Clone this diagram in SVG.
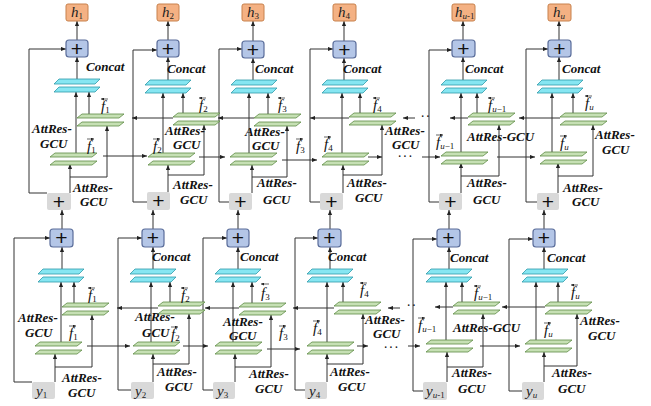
<svg xmlns="http://www.w3.org/2000/svg" width="651" height="406" viewBox="0 0 651 406">
<style>
.bg{fill:#fff}
.ln{fill:none;stroke:#333;stroke-width:1}
.ar{marker-end:url(#a)}
.ac{fill:none;stroke:#222;stroke-width:0.7;marker-end:url(#v)}
.gr{fill:#C6E0B4;stroke:#5E8C45;stroke-width:0.8}
.cy{fill:#86E6F2;stroke:#2E9AAA;stroke-width:0.8}
.bp{fill:#B4C6E7;stroke:#5A6D9A;stroke-width:1.2}
.gp{fill:#D9D9D9;stroke:none}
.ob{fill:#F4B183;stroke:#C8814C;stroke-width:1}
.pl{font:21px "Liberation Sans",sans-serif;fill:#111;text-anchor:middle}
.t{font:italic bold 13px "Liberation Serif",serif;fill:#111}
.f{font:italic 15px "Liberation Serif",serif;fill:#111}
.hv{font:italic 15px "Liberation Serif",serif;fill:#222}
.s{font-size:9px;font-style:normal}
.si{font-size:9px;font-style:italic}
.d{font:bold 10px "Liberation Serif",serif;fill:#111;letter-spacing:2px}
</style>
<defs>
<marker id="a" viewBox="0 0 6 6" refX="6" refY="3" markerWidth="5" markerHeight="5" orient="auto" markerUnits="userSpaceOnUse"><path d="M0,0.5L6,3L0,5.5z" fill="#222"/></marker>
<marker id="v" viewBox="0 0 6 6" refX="6" refY="3" markerWidth="3" markerHeight="3" orient="auto" markerUnits="userSpaceOnUse"><path d="M0,0L6,3L0,6z" fill="#222"/></marker>
<g id="gS"><polygon points="5,0 47,0 42,4 0,4"/><polygon points="5,8 47,8 42,12 0,12"/></g>
<g id="cS"><polygon points="5,0 46,0 41,5 0,5"/><polygon points="5,8 46,8 41,13 0,13"/></g>
</defs>
<rect class="bg" x="0" y="0" width="651" height="406"/>

<g id="connectors" class="ln">
<!-- top col1 -->
<path class="ar" d="M77,40V21"/><path class="ar" d="M77,79V57"/><path class="ar" d="M76,153V92"/><path class="ar" d="M89,114V92"/>
<path class="ar" d="M70,193V164"/><path class="ar" d="M70,177H107V126"/><path class="ar" d="M47,193H29V49H66"/><path class="ar" d="M103,156H147"/>
<!-- top col2 -->
<path class="ar" d="M168,40V21"/><path class="ar" d="M168,80V57"/><path class="ar" d="M163,153V93"/><path class="ar" d="M183,113V93"/>
<path class="ar" d="M168,192V165"/><path class="ar" d="M168,175H204V125"/><path class="ar" d="M147,202H133V50H157"/><path class="ar" d="M173,118H132"/><path class="ar" d="M199,157H225"/>
<!-- top col3 -->
<path class="ar" d="M253,41V21"/><path class="ar" d="M253,80V58"/><path class="ar" d="M249,153V93"/><path class="ar" d="M268,114V93"/>
<path class="ar" d="M252,193V165"/><path class="ar" d="M252,177H287V126"/><path class="ar" d="M229,202H219V49H242"/><path class="ar" d="M254,118H218"/><path class="ar" d="M282,160H317"/>
<!-- top col4 -->
<path class="ar" d="M344,41V21"/><path class="ar" d="M344,80V58"/><path class="ar" d="M342,153V93"/><path class="ar" d="M360,113V93"/>
<path class="ar" d="M343,193V165"/><path class="ar" d="M343,175H382V125"/><path class="ar" d="M320,202H310V49H333"/><path class="ar" d="M349,118H310"/><path class="ar" d="M415,118H403"/><path class="ar" d="M368,157H382"/>
<!-- top col5 -->
<path class="ar" d="M463,40V21"/><path class="ar" d="M463,80V57"/><path class="ar" d="M461,152V93"/><path class="ar" d="M477,113V93"/>
<path class="ar" d="M461,193V163"/><path class="ar" d="M461,176H499V125"/><path class="ar" d="M439,202H429V50H452"/><path class="ar" d="M468,118H450"/><path class="ar" d="M422,157H440"/><path class="ar" d="M497,157H535"/>
<!-- top col6 -->
<path class="ar" d="M559,40V21"/><path class="ar" d="M559,80V57"/><path class="ar" d="M552,152V93"/><path class="ar" d="M573,113V93"/>
<path class="ar" d="M558,193V163"/><path class="ar" d="M558,176H593V125"/><path class="ar" d="M537,202H526V49H548"/><path class="ar" d="M560,118H519"/>
<!-- between layers -->
<path class="ar" d="M62,229V210"/><path class="ar" d="M153,229V210"/><path class="ar" d="M238,229V210"/><path class="ar" d="M330,229V210"/><path class="ar" d="M449,229V210"/><path class="ar" d="M544,229V210"/>
<!-- bottom col1 -->
<path class="ar" d="M62,269V247"/><path class="ar" d="M61,342V282"/><path class="ar" d="M74,303V282"/>
<path class="ar" d="M55,382V354"/><path class="ar" d="M55,367H92V315"/><path class="ar" d="M32,382H14V238H50"/><path class="ar" d="M87,346H130"/>
<!-- bottom col2 -->
<path class="ar" d="M153,269V247"/><path class="ar" d="M151,342V282"/><path class="ar" d="M170,302V282"/>
<path class="ar" d="M153,382V354"/><path class="ar" d="M153,364H189V314"/><path class="ar" d="M131,390H118V238H142"/><path class="ar" d="M158,308H117"/><path class="ar" d="M183,346H208"/>
<!-- bottom col3 -->
<path class="ar" d="M238,269V247"/><path class="ar" d="M233,342V282"/><path class="ar" d="M252,303V282"/>
<path class="ar" d="M235,382V354"/><path class="ar" d="M235,367H271V315"/><path class="ar" d="M213,390H203V238H227"/><path class="ar" d="M239,308H205"/><path class="ar" d="M267,349H300"/>
<!-- bottom col4 -->
<path class="ar" d="M330,269V247"/><path class="ar" d="M327,342V282"/><path class="ar" d="M343,302V282"/>
<path class="ar" d="M327,382V354"/><path class="ar" d="M327,364H363V314"/><path class="ar" d="M305,390H295V238H318"/><path class="ar" d="M334,308H293"/><path class="ar" d="M400,308H388"/><path class="ar" d="M357,346H368"/>
<!-- bottom col5 -->
<path class="ar" d="M449,269V247"/><path class="ar" d="M446,340V282"/><path class="ar" d="M462,302V282"/>
<path class="ar" d="M447,382V352"/><path class="ar" d="M447,367H483V314"/><path class="ar" d="M423,391H413V239H437"/><path class="ar" d="M453,307H435"/><path class="ar" d="M408,346H420"/><path class="ar" d="M480,346H520"/>
<!-- bottom col6 -->
<path class="ar" d="M544,269V247"/><path class="ar" d="M536,340V282"/><path class="ar" d="M558,302V282"/>
<path class="ar" d="M544,382V352"/><path class="ar" d="M544,366H577V314"/><path class="ar" d="M522,391H509V239H533"/><path class="ar" d="M545,307H502"/>
</g>

<!-- ===== top layer nodes ===== -->
<g id="h1"><rect class="ob" x="66" y="4" width="22" height="17" rx="2"/><text class="hv" x="71" y="17">h<tspan class="s" dy="2">1</tspan></text></g>
<g id="h2"><rect class="ob" x="157" y="4" width="22" height="17" rx="2"/><text class="hv" x="162" y="17">h<tspan class="s" dy="2">2</tspan></text></g>
<g id="h3"><rect class="ob" x="242" y="4" width="22" height="17" rx="2"/><text class="hv" x="247" y="17">h<tspan class="s" dy="2">3</tspan></text></g>
<g id="h4"><rect class="ob" x="333" y="4" width="23" height="17" rx="2"/><text class="hv" x="338" y="17">h<tspan class="s" dy="2">4</tspan></text></g>
<g id="hu1"><rect class="ob" x="452" y="4" width="23" height="17" rx="2"/><text class="hv" x="455" y="17">h<tspan class="si" dy="2">u</tspan><tspan class="s">-1</tspan></text></g>
<g id="hu"><rect class="ob" x="548" y="4" width="23" height="17" rx="2"/><text class="hv" x="553" y="17">h<tspan class="si" dy="2">u</tspan></text></g>

<g id="tp1"><rect class="bp" x="66" y="40" width="22" height="17" rx="3"/><text class="pl" x="77" y="56">+</text></g>
<g id="tp2"><rect class="bp" x="157" y="40" width="22" height="17" rx="3"/><text class="pl" x="168" y="56">+</text></g>
<g id="tp3"><rect class="bp" x="242" y="41" width="22" height="17" rx="3"/><text class="pl" x="253" y="57">+</text></g>
<g id="tp4"><rect class="bp" x="333" y="41" width="23" height="17" rx="3"/><text class="pl" x="344.5" y="57">+</text></g>
<g id="tp5"><rect class="bp" x="452" y="40" width="23" height="17" rx="3"/><text class="pl" x="463.5" y="56">+</text></g>
<g id="tp6"><rect class="bp" x="548" y="40" width="23" height="17" rx="3"/><text class="pl" x="559.5" y="56">+</text></g>

<g id="tc1"><use href="#cS" class="cy" x="54" y="79"/></g>
<g id="tc2"><use href="#cS" class="cy" x="145" y="80"/></g>
<g id="tc3"><use href="#cS" class="cy" x="231" y="80"/></g>
<g id="tc4"><use href="#cS" class="cy" x="322" y="80"/></g>
<g id="tc5"><use href="#cS" class="cy" x="441" y="80"/></g>
<g id="tc6"><use href="#cS" class="cy" x="537" y="80"/></g>

<g id="tb1"><use href="#gS" class="gr" x="77" y="114"/></g>
<g id="tb2"><use href="#gS" class="gr" x="173" y="113"/></g>
<g id="tb3"><use href="#gS" class="gr" x="254" y="114"/></g>
<g id="tb4"><use href="#gS" class="gr" x="349" y="113"/></g>
<g id="tb5"><use href="#gS" class="gr" x="468" y="113"/></g>
<g id="tb6"><use href="#gS" class="gr" x="560" y="113"/></g>

<g id="tf1"><use href="#gS" class="gr" x="50" y="153"/></g>
<g id="tf2"><use href="#gS" class="gr" x="148" y="153"/></g>
<g id="tf3"><use href="#gS" class="gr" x="230" y="153"/></g>
<g id="tf4"><use href="#gS" class="gr" x="322" y="153"/></g>
<g id="tf5"><use href="#gS" class="gr" x="441" y="152"/></g>
<g id="tf6"><use href="#gS" class="gr" x="540" y="152"/></g>

<g id="tg1"><rect class="gp" x="47" y="193" width="24" height="17" rx="2"/><text class="pl" x="59" y="209">+</text></g>
<g id="tg2"><rect class="gp" x="147" y="192" width="23" height="18" rx="2"/><text class="pl" x="158.5" y="208">+</text></g>
<g id="tg3"><rect class="gp" x="229" y="193" width="23" height="17" rx="2"/><text class="pl" x="240.5" y="209">+</text></g>
<g id="tg4"><rect class="gp" x="320" y="193" width="23" height="17" rx="2"/><text class="pl" x="331.5" y="209">+</text></g>
<g id="tg5"><rect class="gp" x="439" y="193" width="23" height="17" rx="2"/><text class="pl" x="450.5" y="209">+</text></g>
<g id="tg6"><rect class="gp" x="537" y="193" width="22" height="17" rx="2"/><text class="pl" x="548" y="209">+</text></g>

<!-- ===== bottom layer nodes ===== -->
<g id="bp1"><rect class="bp" x="50" y="229" width="23" height="18" rx="3"/><text class="pl" x="61.5" y="245">+</text></g>
<g id="bp2"><rect class="bp" x="142" y="229" width="22" height="18" rx="3"/><text class="pl" x="153" y="245">+</text></g>
<g id="bp3"><rect class="bp" x="227" y="229" width="22" height="18" rx="3"/><text class="pl" x="238" y="245">+</text></g>
<g id="bp4"><rect class="bp" x="318" y="229" width="23" height="18" rx="3"/><text class="pl" x="329.5" y="245">+</text></g>
<g id="bp5"><rect class="bp" x="437" y="229" width="23" height="18" rx="3"/><text class="pl" x="448.5" y="245">+</text></g>
<g id="bp6"><rect class="bp" x="533" y="229" width="22" height="18" rx="3"/><text class="pl" x="544" y="245">+</text></g>

<g id="bc1"><use href="#cS" class="cy" x="38" y="269"/></g>
<g id="bc2"><use href="#cS" class="cy" x="130" y="269"/></g>
<g id="bc3"><use href="#cS" class="cy" x="215" y="269"/></g>
<g id="bc4"><use href="#cS" class="cy" x="307" y="269"/></g>
<g id="bc5"><use href="#cS" class="cy" x="426" y="269"/></g>
<g id="bc6"><use href="#cS" class="cy" x="522" y="269"/></g>

<g id="bb1"><use href="#gS" class="gr" x="62" y="303"/></g>
<g id="bb2"><use href="#gS" class="gr" x="158" y="302"/></g>
<g id="bb3"><use href="#gS" class="gr" x="239" y="303"/></g>
<g id="bb4"><use href="#gS" class="gr" x="334" y="302"/></g>
<g id="bb5"><use href="#gS" class="gr" x="453" y="302"/></g>
<g id="bb6"><use href="#gS" class="gr" x="545" y="302"/></g>

<g id="bf1"><use href="#gS" class="gr" x="35" y="342"/></g>
<g id="bf2"><use href="#gS" class="gr" x="133" y="342"/></g>
<g id="bf3"><use href="#gS" class="gr" x="215" y="342"/></g>
<g id="bf4"><use href="#gS" class="gr" x="307" y="342"/></g>
<g id="bf5"><use href="#gS" class="gr" x="426" y="340"/></g>
<g id="bf6"><use href="#gS" class="gr" x="525" y="340"/></g>

<g id="y1"><rect class="gp" x="32" y="382" width="23" height="17" rx="2"/><text class="hv" x="36" y="396">y<tspan class="s" dy="2">1</tspan></text></g>
<g id="y2"><rect class="gp" x="131" y="382" width="23" height="17" rx="2"/><text class="hv" x="135" y="396">y<tspan class="s" dy="2">2</tspan></text></g>
<g id="y3"><rect class="gp" x="213" y="382" width="22" height="17" rx="2"/><text class="hv" x="217" y="396">y<tspan class="s" dy="2">3</tspan></text></g>
<g id="y4"><rect class="gp" x="305" y="382" width="22" height="17" rx="2"/><text class="hv" x="309" y="396">y<tspan class="s" dy="2">4</tspan></text></g>
<g id="yu1"><rect class="gp" x="423" y="382" width="24" height="18" rx="2"/><text class="hv" x="426" y="396">y<tspan class="si" dy="2">u</tspan><tspan class="s">-1</tspan></text></g>
<g id="yu"><rect class="gp" x="522" y="382" width="22" height="18" rx="2"/><text class="hv" x="526" y="396">y<tspan class="si" dy="2">u</tspan></text></g>

<!-- ===== labels ===== -->
<g id="labels">
<!-- top -->
<text class="t" x="86" y="71">Concat</text>
<text class="t" x="167" y="73">Concat</text>
<text class="t" x="255" y="73">Concat</text>
<text class="t" x="343" y="73">Concat</text>
<text class="t" x="465" y="73">Concat</text>
<text class="t" x="562" y="73">Concat</text>

<text class="t" x="32" y="133">AttRes-</text><text class="t" x="40" y="148">GCU</text>
<text class="t" x="73" y="192">AttRes-</text><text class="t" x="80" y="206">GCU</text>
<text class="t" x="165" y="135">AttRes-</text><text class="t" x="173" y="149">GCU</text>
<text class="t" x="173" y="189">AttRes-</text><text class="t" x="180" y="204">GCU</text>
<text class="t" x="245" y="136">AttRes-</text><text class="t" x="252" y="150">GCU</text>
<text class="t" x="257" y="187">AttRes-</text><text class="t" x="263" y="204">GCU</text>
<text class="t" x="385" y="135">AttRes-</text><text class="t" x="392" y="149">GCU</text>
<text class="t" x="347" y="187">AttRes-</text><text class="t" x="355" y="202">GCU</text>
<text class="t" x="467" y="141">AttRes-GCU</text>
<text class="t" x="467" y="187">AttRes-</text><text class="t" x="473" y="204">GCU</text>
<text class="t" x="595" y="139">AttRes-</text><text class="t" x="602" y="154">GCU</text>
<text class="t" x="563" y="192">AttRes-</text><text class="t" x="572" y="206">GCU</text>

<text class="f" x="101" y="111">f<tspan class="s" dy="2">1</tspan></text>
<text class="f" x="87" y="151">f<tspan class="s" dy="2">1</tspan></text>
<text class="f" x="199" y="110">f<tspan class="s" dy="2">2</tspan></text>
<text class="f" x="153" y="151">f<tspan class="s" dy="2">2</tspan></text>
<text class="f" x="278" y="110">f<tspan class="s" dy="2">3</tspan></text>
<text class="f" x="296" y="151">f<tspan class="s" dy="2">3</tspan></text>
<text class="f" x="373" y="110">f<tspan class="s" dy="2">4</tspan></text>
<text class="f" x="324" y="149">f<tspan class="s" dy="2">4</tspan></text>
<text class="f" x="488" y="110">f<tspan class="si" dy="2">u</tspan><tspan class="s">−1</tspan></text>
<text class="f" x="436" y="147">f<tspan class="si" dy="2">u</tspan><tspan class="s">−1</tspan></text>
<text class="f" x="585" y="108">f<tspan class="si" dy="2">u</tspan></text>
<text class="f" x="560" y="148">f<tspan class="si" dy="2">u</tspan></text>

<text class="d" x="421" y="120">··</text>
<text class="d" x="398" y="160">···</text>

<!-- bottom -->
<text class="t" x="152" y="261">Concat</text>
<text class="t" x="240" y="261">Concat</text>
<text class="t" x="328" y="261">Concat</text>
<text class="t" x="450" y="262">Concat</text>
<text class="t" x="547" y="262">Concat</text>

<text class="t" x="18" y="322">AttRes-</text><text class="t" x="25" y="337">GCU</text>
<text class="t" x="62" y="382">AttRes-</text><text class="t" x="68" y="397">GCU</text>
<text class="t" x="135" y="321">AttRes-</text><text class="t" x="142" y="337">GCU</text>
<text class="t" x="157" y="376">AttRes-</text><text class="t" x="165" y="391">GCU</text>
<text class="t" x="223" y="326">AttRes-</text><text class="t" x="229" y="340">GCU</text>
<text class="t" x="249" y="378">AttRes-</text><text class="t" x="255" y="393">GCU</text>
<text class="t" x="365" y="324">AttRes-</text><text class="t" x="373" y="338">GCU</text>
<text class="t" x="330" y="376">AttRes-</text><text class="t" x="338" y="391">GCU</text>
<text class="t" x="453" y="332">AttRes-GCU</text>
<text class="t" x="452" y="377">AttRes-</text><text class="t" x="458" y="393">GCU</text>
<text class="t" x="580" y="325">AttRes-</text><text class="t" x="588" y="340">GCU</text>
<text class="t" x="552" y="377">AttRes-</text><text class="t" x="558" y="393">GCU</text>

<text class="f" x="88" y="300">f<tspan class="s" dy="2">1</tspan></text>
<text class="f" x="69" y="338">f<tspan class="s" dy="2">1</tspan></text>
<text class="f" x="181" y="300">f<tspan class="s" dy="2">2</tspan></text>
<text class="f" x="171" y="339">f<tspan class="s" dy="2">2</tspan></text>
<text class="f" x="261" y="298" font-size="17">f<tspan class="s" dy="2">3</tspan></text>
<text class="f" x="279" y="338">f<tspan class="s" dy="2">3</tspan></text>
<text class="f" x="360" y="295">f<tspan class="s" dy="2">4</tspan></text>
<text class="f" x="313" y="333">f<tspan class="s" dy="2">4</tspan></text>
<text class="f" x="474" y="298">f<tspan class="si" dy="2">u</tspan><tspan class="s">−1</tspan></text>
<text class="f" x="418" y="330">f<tspan class="si" dy="2">u</tspan><tspan class="s">−1</tspan></text>
<text class="f" x="571" y="297">f<tspan class="si" dy="2">u</tspan></text>
<text class="f" x="544" y="335">f<tspan class="si" dy="2">u</tspan></text>

<text class="d" x="407" y="309">··</text>
<text class="d" x="384" y="351">···</text>
</g>

<g id="accents">
<path class="ac" d="M108,99H101"/><path class="ac" d="M87,139H94"/>
<path class="ac" d="M206,98H199"/><path class="ac" d="M153,139H160"/>
<path class="ac" d="M285,98H278"/><path class="ac" d="M296,139H303"/>
<path class="ac" d="M380,98H373"/><path class="ac" d="M324,137H331"/>
<path class="ac" d="M495,98H488"/><path class="ac" d="M436,135H443"/>
<path class="ac" d="M592,96H585"/><path class="ac" d="M560,136H567"/>
<path class="ac" d="M95,288H88"/><path class="ac" d="M69,326H76"/>
<path class="ac" d="M188,288H181"/><path class="ac" d="M171,327H178"/>
<path class="ac" d="M269,284H261"/><path class="ac" d="M279,326H286"/>
<path class="ac" d="M367,283H360"/><path class="ac" d="M313,321H320"/>
<path class="ac" d="M481,286H474"/><path class="ac" d="M418,318H425"/>
<path class="ac" d="M578,285H571"/><path class="ac" d="M544,323H551"/>
</g>
</svg>
